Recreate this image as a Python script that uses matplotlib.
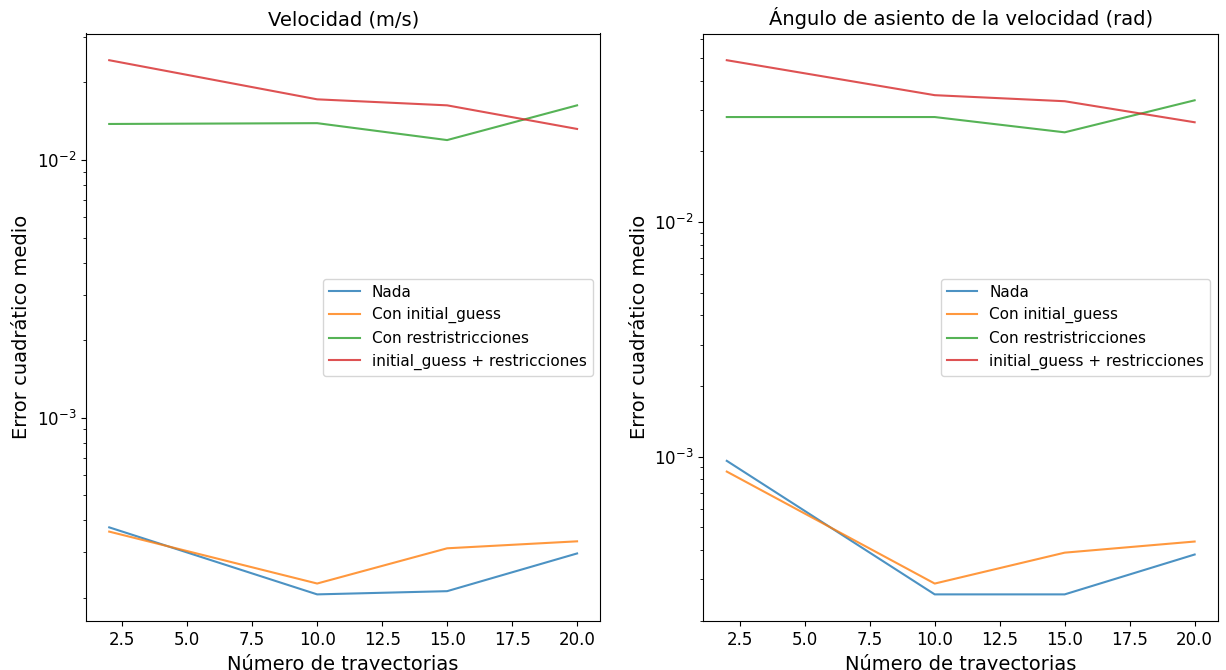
import matplotlib.pyplot as plt

n_tray = [2, 10, 15, 20]
labels = ['Nada', 'Con initial_guess', 'Con restristricciones', 'initial_guess + restricciones']

# velocidad
vel_nada = [0.000375, 0.000206, 0.000212, 0.000297]
vel_ig = [0.000361, 0.000227, 0.000311, 0.000331]
vel_restr = [0.0138, 0.0139, 0.01195, 0.0163]
vel_ig_restr = [0.0244, 0.0172, 0.0163, 0.0132]

# angulo de asiento
ang_nada = [0.00096, 0.000259, 0.000259, 0.000383]
ang_ig = [0.000864, 0.000288, 0.00039, 0.000435]
ang_restr = [0.028, 0.028, 0.0241, 0.033]
ang_ig_restr = [0.0489, 0.0347, 0.0327, 0.0266]

fig, (ax1, ax2) = plt.subplots(1, 2, figsize=(12.26, 6.7), dpi=100)

for ax, series, title in [
        (ax1, [vel_nada, vel_ig, vel_restr, vel_ig_restr], 'Velocidad (m/s)'),
        (ax2, [ang_nada, ang_ig, ang_restr, ang_ig_restr], 'Ángulo de asiento de la velocidad (rad)')]:
    for s, lab in zip(series, labels):
        ax.plot(n_tray, s, label=lab, alpha=0.8, linewidth=1.5)
    ax.set_yscale('log')
    ax.set_title(title, fontsize=14)
    ax.set_xlabel('Número de trayectorias', fontsize=14)
    ax.set_ylabel('Error cuadrático medio', fontsize=14)
    ax.tick_params(labelsize=12)
    ax.legend(loc='center right', fontsize=11)

plt.subplots_adjust(left=0.07, right=0.9935, top=0.95, bottom=0.073, wspace=0.2)
plt.savefig('out.png')
